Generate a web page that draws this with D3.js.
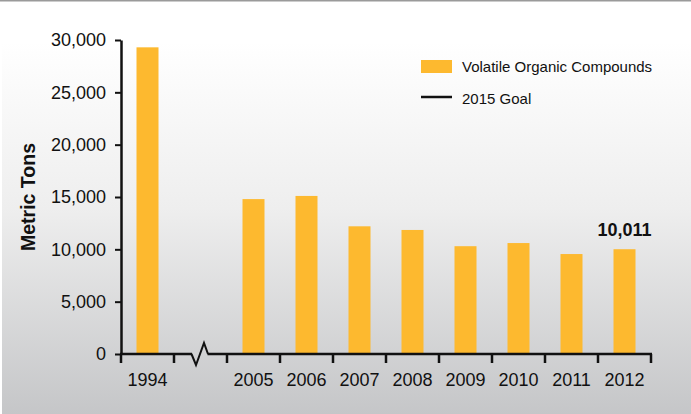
<!DOCTYPE html>
<html>
<head>
<meta charset="utf-8">
<script src="https://cdn.jsdelivr.net/npm/d3@7/dist/d3.min.js"></script>
<style>
  html, body { margin: 0; padding: 0; background: #fff; }
  svg { display: block; font-family: "Liberation Sans", Arial, Helvetica, sans-serif; }
</style>
</head>
<body>
<svg id="chart" width="691" height="414"></svg>
<script>
// Annual VOC emissions (metric tons); the gap slot marks the broken axis 1994 → 2005
const categories = ["1994", "gap", "2005", "2006", "2007", "2008", "2009", "2010", "2011", "2012"];
const vocValues  = [29300, null, 14800, 15100, 12200, 11850, 10300, 10600, 9550, 10011];
const yTicks     = [0, 5000, 10000, 15000, 20000, 25000, 30000];
const legendItems = ["Volatile Organic Compounds", "2015 Goal"];
const highlightIndex = 9; // 2012 value printed above its bar

const W = 691, H = 414;
const margin = { left: 121, right: 40, top: 40, bottom: 60 };
const svg = d3.select("#chart");

// background: thin rule on top, soft vertical gradient panel
const defs = svg.append("defs");
const grad = defs.append("linearGradient").attr("id", "bg").attr("x1", 0).attr("y1", 0).attr("x2", 0).attr("y2", 1);
grad.append("stop").attr("offset", "0%").attr("stop-color", "#ffffff");
grad.append("stop").attr("offset", "45%").attr("stop-color", "#eeeeee");
grad.append("stop").attr("offset", "100%").attr("stop-color", "#c5c6c8");
svg.append("rect").attr("x", 0).attr("y", 0).attr("width", W).attr("height", H).attr("fill", "#fff");
svg.append("rect").attr("x", 2).attr("y", 42).attr("width", W - 2).attr("height", H - 42).attr("fill", "url(#bg)");
svg.append("rect").attr("x", 0).attr("y", 0).attr("width", W).attr("height", 1.5).attr("fill", "#9a9a9a");

const x = d3.scaleBand()
  .domain(categories)
  .range([margin.left, 651])
  .paddingInner(0.585)
  .paddingOuter(0.2925);

const y = d3.scaleLinear().domain([0, 30000]).range([354, 40]);

const barColor = "#fdb92f";

// bars
svg.append("g").selectAll("rect")
  .data(categories.map((c, i) => ({ c, v: vocValues[i] })).filter(d => d.v != null))
  .join("rect")
  .attr("x", d => x(d.c))
  .attr("y", d => y(d.v))
  .attr("width", x.bandwidth())
  .attr("height", d => y(0) - y(d.v))
  .attr("fill", barColor);

// value label on 2012
const hl = categories[highlightIndex];
svg.append("text")
  .attr("x", x(hl) + x.bandwidth() / 2)
  .attr("y", y(vocValues[highlightIndex]) - 13)
  .attr("text-anchor", "middle")
  .attr("font-size", 18)
  .attr("font-weight", "bold")
  .attr("fill", "#111")
  .text(d3.format(",")(vocValues[highlightIndex]));

// y axis
const yAxis = svg.append("g")
  .attr("transform", `translate(${margin.left},0)`)
  .call(d3.axisLeft(y).tickValues(yTicks).tickFormat(d3.format(",")).tickSize(6).tickSizeOuter(0).tickPadding(9));
yAxis.select(".domain").attr("stroke", "#111").attr("stroke-width", 2.5);
yAxis.selectAll(".tick line").attr("stroke", "#111").attr("stroke-width", 2);
yAxis.selectAll(".tick text").attr("font-size", 18).attr("fill", "#111").attr("font-family", "Liberation Sans, Arial, sans-serif");

// x axis: baseline with a zigzag break in the gap slot, ticks at slot boundaries
const step = x.step();
const x0 = margin.left, x1 = x0 + step * categories.length;
const y0 = y(0);
const gapC = x("gap") + x.bandwidth() / 2;
const axisG = svg.append("g").attr("stroke", "#111").attr("fill", "none");
axisG.append("path")
  .attr("stroke-width", 2.5)
  .attr("d", d3.line()([[x0 - 1, y0], [gapC - 8.5, y0]]));
axisG.append("path")
  .attr("stroke-width", 2)
  .attr("stroke-linejoin", "miter")
  .attr("d", d3.line()([[gapC - 9, y0], [gapC - 4.5, y0 + 11], [gapC + 3.5, y0 - 11], [gapC + 7.5, y0]]));
axisG.append("path")
  .attr("stroke-width", 2.5)
  .attr("d", d3.line()([[gapC + 7, y0], [x1 + 1, y0]]));
axisG.selectAll("line.tick")
  .data(d3.range(categories.length + 1))
  .join("line")
  .attr("x1", i => x0 + i * step)
  .attr("x2", i => x0 + i * step)
  .attr("y1", y0)
  .attr("y2", y0 + 9)
  .attr("stroke-width", 2.5);

svg.append("g").selectAll("text")
  .data(categories.filter(c => c !== "gap"))
  .join("text")
  .attr("x", c => x(c) + x.bandwidth() / 2)
  .attr("y", 386)
  .attr("text-anchor", "middle")
  .attr("font-size", 18)
  .attr("fill", "#111")
  .text(c => c);

// y title
svg.append("text")
  .attr("transform", `translate(35,${(y(0) + y(30000)) / 2 + 0}) rotate(-90)`)
  .attr("text-anchor", "middle")
  .attr("font-size", 19.5)
  .attr("font-weight", "bold")
  .attr("fill", "#111")
  .text("Metric Tons");

// legend
const lg = svg.append("g").attr("transform", "translate(421,60)");
lg.append("rect").attr("x", 0).attr("y", 0).attr("width", 31).attr("height", 13).attr("fill", barColor);
lg.append("line").attr("x1", 0).attr("x2", 31).attr("y1", 37).attr("y2", 37).attr("stroke", "#111").attr("stroke-width", 2.5);
lg.selectAll("text")
  .data(legendItems)
  .join("text")
  .attr("x", 41)
  .attr("y", (d, i) => 12 + i * 32)
  .attr("font-size", 15)
  .attr("fill", "#111")
  .text(d => d);
</script>
</body>
</html>
